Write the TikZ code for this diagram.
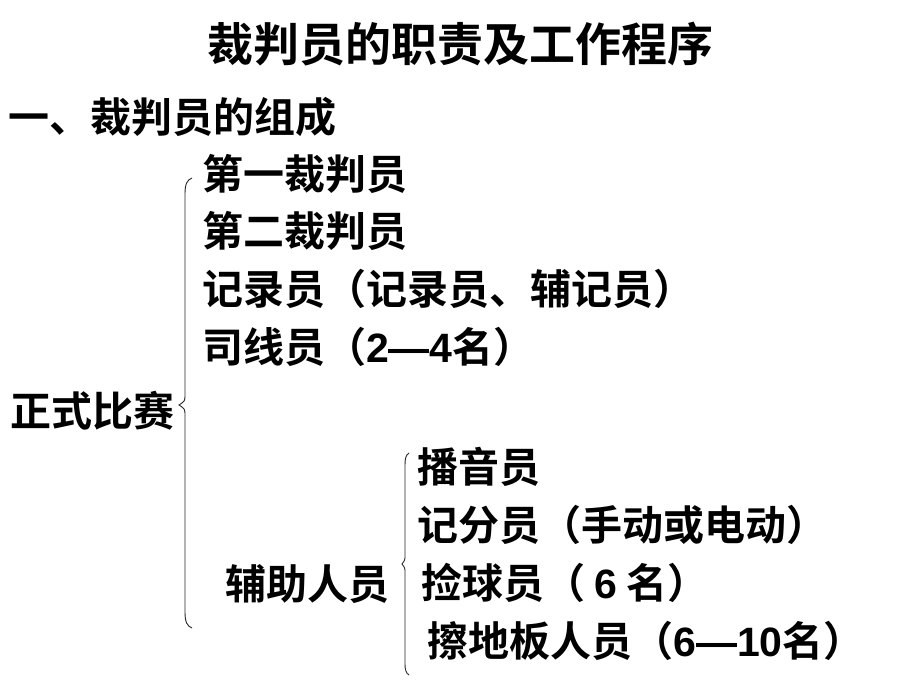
\documentclass[tikz,border=0pt]{standalone}
\usepackage{fontspec}
\setmainfont{Noto Sans CJK SC}[BoldFont={Noto Sans CJK SC Bold}]
\newfontfamily\lat{Liberation Sans}
\begin{document}
\begin{tikzpicture}[x=1pt,y=-1pt,
  txt/.style={anchor=base west,inner sep=0pt,font=\fontsize{41}{41}\selectfont\bfseries},
  brace/.style={draw=black!85,line width=0.9pt}]
\useasboundingbox (0,0) rectangle (920,690);
\node[anchor=base,inner sep=0pt,font=\fontsize{46}{46}\selectfont\bfseries] (title) at (460,62) {裁判员的职责及工作程序};
\node[txt] (head) at (8,132) {一、裁判员的组成};
\node[txt] (a1) at (202,189) {第一裁判员};
\node[txt] (a2) at (202,246) {第二裁判员};
\node[txt] (a3) at (202,304) {记录员（记录员、辅记员）};
\node[txt] (a4) at (202,362) {司线员（{\lat 2—4}名）};
\node[txt] (main) at (10,426) {正式比赛};
\node[txt] (aux) at (225,599) {辅助人员};
\node[txt] (b1) at (417,482) {播音员};
\node[txt] (b2) at (417,540) {记分员（手动或电动）};
\node[txt] (b3) at (421,598) {捡球员（ {\lat 6} 名）};
\node[txt] (b4) at (427,656) {擦地板人员（{\lat 6—10}名）};
\coordinate (br1) at (179,405);
\coordinate (br2) at (402,564);
\draw[brace] (192,178) .. controls (187,180) and (185,184) .. (185,194)
  -- (185,394) .. controls (185,401) .. (br1) .. controls (185,409) .. (185,416)
  -- (185,612) .. controls (185,622) and (187,626) .. (192,628);
\draw[brace] (409,453) .. controls (406,455) and (405,458) .. (405,465)
  -- (405,555) .. controls (405,560) .. (br2) .. controls (405,568) .. (405,573)
  -- (405,664) .. controls (405,670) and (406,673) .. (409,675);
\end{tikzpicture}
\end{document}
